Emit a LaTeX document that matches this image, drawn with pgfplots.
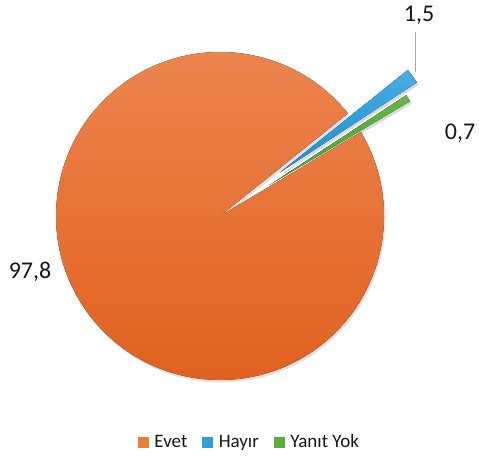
\documentclass[border=0pt]{standalone}
\usepackage{pgfplots}
\pgfplotsset{compat=1.18}
\usepackage{pgfplotstable}
\usepackage{fontspec}
\setmainfont{Carlito}

\definecolor{orTop}{HTML}{ED8651}
\definecolor{orBot}{HTML}{E05F1C}
\definecolor{blTop}{HTML}{47ADE2}
\definecolor{blBot}{HTML}{1890D3}
\definecolor{grTop}{HTML}{66B548}
\definecolor{grBot}{HTML}{4A9F2D}
\definecolor{lab}{HTML}{161616}
\definecolor{orLeg}{HTML}{ED7D31}
\definecolor{blLeg}{HTML}{2E9FDC}
\definecolor{grLeg}{HTML}{5BAE3C}

% value (percent) and explosion distance (pt)
\pgfplotstableread{
name value explode
Evet 97.8 0
Hayir 1.5 74
YanitYok 0.7 58
}\piedata

\begin{document}%
\begin{tikzpicture}
\pgfplotstablegetelem{0}{value}\of\piedata \let\vA\pgfplotsretval
\pgfplotstablegetelem{1}{value}\of\piedata \let\vB\pgfplotsretval
\pgfplotstablegetelem{2}{value}\of\piedata \let\vC\pgfplotsretval
\pgfplotstablegetelem{1}{explode}\of\piedata \let\eB\pgfplotsretval
\pgfplotstablegetelem{2}{explode}\of\piedata \let\eC\pgfplotsretval
\pgfmathsetmacro{\aA}{390.8}
\pgfmathsetmacro{\bA}{\aA-3.6*\vA}
\pgfmathsetmacro{\bB}{\bA-3.6*\vB}
\pgfmathsetmacro{\bC}{\bB-3.6*\vC}
\pgfmathsetmacro{\mB}{(\bA+\bB)/2}
\pgfmathsetmacro{\mC}{(\bB+\bC)/2}
\pgfmathsetmacro{\cx}{220}
\pgfmathsetmacro{\cy}{241}
\pgfmathsetmacro{\xB}{\cx+\eB*cos(\mB)}
\pgfmathsetmacro{\yB}{\cy+\eB*sin(\mB)}
\pgfmathsetmacro{\xC}{\cx+\eC*cos(\mC)}
\pgfmathsetmacro{\yC}{\cy+\eC*sin(\mC)}
\def\R{164pt}
\begin{axis}[
  x=1pt, y=1pt,
  xmin=0, xmax=479, ymin=0, ymax=457,
  hide axis, clip=false,
  legend columns=3,
  legend style={at={(axis cs:249.5,15)}, anchor=center, draw=none, fill=none,
    font=\fontsize{19}{22}\selectfont, text=lab, inner sep=0pt,
    /tikz/every odd column/.append style={column sep=4pt},
    /tikz/every even column/.append style={column sep=13pt}},
  legend cell align=left,
]
% shadows
\fill[black,opacity=0.12] (axis cs:\cx+1.5,\cy-2.5) -- ++(\bA:\R) arc[start angle=\bA, end angle=\aA, radius=\R] -- cycle;
\fill[black,opacity=0.15] (axis cs:\xB+1.5,\yB-2.5) -- ++(\bB:\R) arc[start angle=\bB, end angle=\bA, radius=\R] -- cycle;
\fill[black,opacity=0.15] (axis cs:\xC+1.5,\yC-2.5) -- ++(\bC:\R) arc[start angle=\bC, end angle=\bB, radius=\R] -- cycle;
% wedges
\fill[top color=orTop, bottom color=orBot] (axis cs:\cx,\cy) -- ++(\bA:\R) arc[start angle=\bA, end angle=\aA, radius=\R] -- cycle;
\fill[top color=blTop, bottom color=blBot] (axis cs:\xB,\yB) -- ++(\bB:\R) arc[start angle=\bB, end angle=\bA, radius=\R] -- cycle;
\fill[top color=grTop, bottom color=grBot] (axis cs:\xC,\yC) -- ++(\bC:\R) arc[start angle=\bC, end angle=\bB, radius=\R] -- cycle;
% labels
\node[text=lab, font=\fontsize{24}{28}\selectfont] at (axis cs:30,185) {97,8};
\node[text=lab, font=\fontsize{24}{28}\selectfont] at (axis cs:419,442) {1,5};
\node[text=lab, font=\fontsize{24}{28}\selectfont] at (axis cs:460,324) {0,7};
\draw[gray!70, line width=0.8pt] (axis cs:415,385) -- (axis cs:415,425);
% legend
\addlegendimage{legend image code/.code={\fill[orLeg] (0pt,-5pt) rectangle (10pt,5pt);}}
\addlegendentry{Evet}
\addlegendimage{legend image code/.code={\fill[blLeg] (0pt,-5pt) rectangle (10pt,5pt);}}
\addlegendentry{Hayır}
\addlegendimage{legend image code/.code={\fill[grLeg] (0pt,-5pt) rectangle (10pt,5pt);}}
\addlegendentry{Yanıt Yok}
\path (axis cs:0,0) rectangle (axis cs:479,457);
\end{axis}
\end{tikzpicture}%
\end{document}
